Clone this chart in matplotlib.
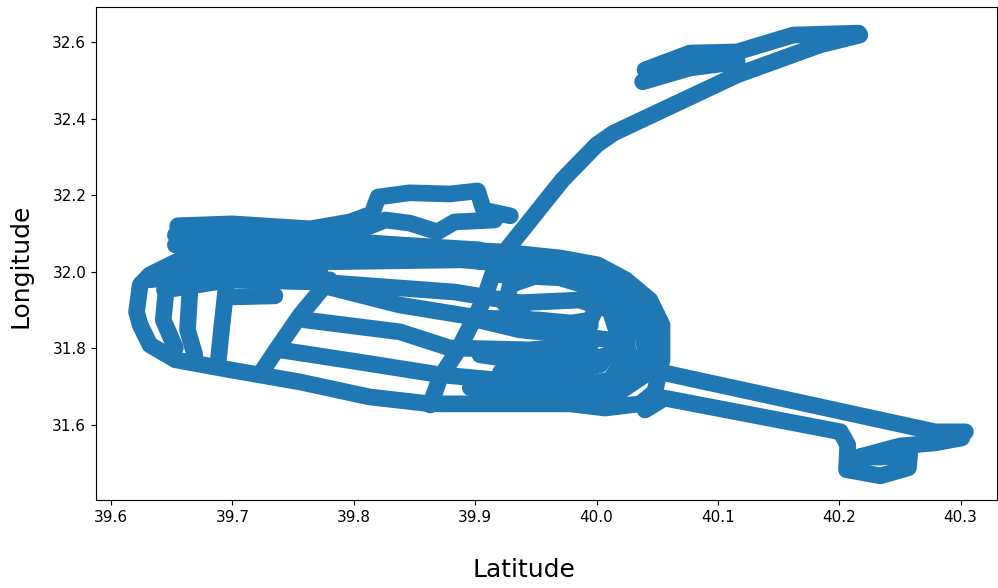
import numpy as np
import matplotlib.pyplot as plt

# GPS traces of the recorded trips: latitude on x, longitude on y
ring_lat = [39.756, 39.698, 39.657, 39.632, 39.624, 39.621, 39.624, 39.632, 39.653, 39.698,
            39.756, 39.813, 39.863, 39.921, 39.978, 40.007, 40.036, 40.048, 40.054, 40.054,
            40.044, 40.024, 40.001, 39.970, 39.921, 39.855, 39.780, 39.715, 39.661]
ring_lon = [32.052, 32.052, 32.031, 31.992, 31.966, 31.895, 31.861, 31.809, 31.770, 31.744,
            31.712, 31.673, 31.655, 31.655, 31.655, 31.644, 31.655, 31.686, 31.770, 31.861,
            31.926, 31.979, 32.018, 32.036, 32.052, 32.062, 32.073, 32.083, 32.093]

north_lat = [39.655, 39.655, 39.700, 39.764, 39.797, 39.815, 39.820, 39.846, 39.879, 39.902, 39.907, 39.929]
north_lon = [32.070, 32.120, 32.125, 32.112, 32.130, 32.151, 32.195, 32.206, 32.203, 32.211, 32.161, 32.146]

vee_lat = [39.756, 39.797, 39.826, 39.846, 39.869, 39.883, 39.916]
vee_lon = [32.083, 32.099, 32.135, 32.127, 32.104, 32.130, 32.135]

# road out to the north-east
diag_lat = [39.863, 39.871, 39.886, 39.907, 39.918, 39.972, 40.000, 40.014, 40.116, 40.184, 40.217]
diag_lon = [31.652, 31.723, 31.796, 31.926, 32.026, 32.240, 32.331, 32.362, 32.514, 32.592, 32.618]

ne_up_lat = [40.040, 40.077, 40.116, 40.162, 40.216]
ne_up_lon = [32.527, 32.571, 32.574, 32.618, 32.623]
ne_low_lat = [40.038, 40.077, 40.116]
ne_low_lon = [32.496, 32.532, 32.548]

# road out to the south-east
se_up_lat = [40.044, 40.279, 40.304]
se_up_lon = [31.744, 31.582, 31.582]
se_low_lat = [40.040, 40.056, 40.201, 40.207, 40.206, 40.234, 40.257, 40.258, 40.234, 40.216,
              40.250, 40.279, 40.301]
se_low_lon = [31.639, 31.670, 31.582, 31.548, 31.483, 31.467, 31.488, 31.522, 31.516, 31.516,
              31.545, 31.553, 31.566]

# streets inside the town
f1_lat = [39.653, 39.756, 39.838, 39.904]
f1_lon = [32.096, 32.088, 32.070, 32.057]
f2_lat = [39.653, 39.715, 39.797, 39.888, 39.937]
f2_lon = [32.070, 32.062, 32.052, 32.041, 32.036]
f3_lat = [39.655, 39.698]
f3_lon = [32.104, 32.104]
l1_lat = [39.632, 39.673, 39.723, 39.772]
l1_lon = [31.979, 31.992, 32.000, 32.000]
l2_lat = [39.665, 39.663, 39.669]
l2_lon = [31.952, 31.848, 31.783]
m2_lat = [39.665, 39.723, 39.780, 39.888, 39.953, 40.003, 40.036, 40.040, 40.028, 40.003, 39.953, 39.896]
m2_lon = [32.010, 32.026, 32.026, 32.031, 32.015, 31.966, 31.879, 31.796, 31.717, 31.686, 31.686, 31.697]
m3_lat = [39.644, 39.698, 39.772, 39.883, 39.937, 39.986, 40.011, 40.019, 40.003, 39.970, 39.921]
m3_lon = [31.952, 31.979, 31.973, 31.947, 31.919, 31.926, 31.900, 31.822, 31.757, 31.731, 31.738]
m4_lat = [39.772, 39.838, 39.904, 39.953, 39.995]
m4_lon = [31.966, 31.913, 31.879, 31.874, 31.861]
m5_lat = [39.760, 39.838, 39.879, 39.945, 39.995]
m5_lon = [31.874, 31.843, 31.801, 31.796, 31.809]
m6_lat = [39.739, 39.805, 39.871, 39.937, 40.003]
m6_lon = [31.796, 31.764, 31.731, 31.712, 31.697]
m7_lat = [39.695, 39.691, 39.688]
m7_lon = [31.966, 31.848, 31.757]
m8_lat = [39.780, 39.756, 39.739, 39.724]
m8_lon = [31.979, 31.887, 31.809, 31.738]
m9_lat = [39.645, 39.643, 39.653]
m9_lon = [31.939, 31.874, 31.801]
m10_lat = [39.698, 39.735]
m10_lon = [31.934, 31.937]
m11_lat = [39.929, 39.953, 39.991, 40.003, 39.995, 39.970, 39.945, 39.925, 39.929]
m11_lon = [31.966, 31.992, 31.979, 31.926, 31.874, 31.861, 31.874, 31.913, 31.966]
r1_lat = [39.904, 39.970, 40.011, 40.044, 40.048, 40.040, 40.015, 39.970, 39.912]
r1_lon = [32.026, 32.026, 31.992, 31.913, 31.822, 31.731, 31.678, 31.670, 31.678]
r2_lat = [39.921, 39.970, 40.003, 40.024, 40.026, 40.011, 39.978, 39.937]
r2_lon = [31.992, 31.984, 31.952, 31.874, 31.783, 31.717, 31.697, 31.704]
r3_lat = [39.896, 39.937, 39.978, 40.011]
r3_lon = [31.879, 31.848, 31.835, 31.822]
r4_lat = [39.904, 39.945, 39.986, 40.015]
r4_lon = [31.783, 31.764, 31.770, 31.783]

tracks = [
    (ring_lat, ring_lon), (north_lat, north_lon), (vee_lat, vee_lon),
    (diag_lat, diag_lon), (ne_up_lat, ne_up_lon), (ne_low_lat, ne_low_lon),
    (se_up_lat, se_up_lon), (se_low_lat, se_low_lon),
    (f1_lat, f1_lon), (f2_lat, f2_lon), (f3_lat, f3_lon),
    (l1_lat, l1_lon), (l2_lat, l2_lon),
    (m2_lat, m2_lon), (m3_lat, m3_lon), (m4_lat, m4_lon), (m5_lat, m5_lon),
    (m6_lat, m6_lon), (m7_lat, m7_lon), (m8_lat, m8_lon), (m9_lat, m9_lon),
    (m10_lat, m10_lon), (m11_lat, m11_lon),
    (r1_lat, r1_lon), (r2_lat, r2_lon), (r3_lat, r3_lon), (r4_lat, r4_lon),
]

fig = plt.figure(figsize=(9.98, 5.88), dpi=100)
ax = fig.add_axes([0.0962, 0.1497, 0.9028, 0.8376])

for lat, lon in tracks:
    ax.plot(lat, lon, color='#1f77b4', linewidth=12,
            solid_capstyle='round', solid_joinstyle='round')

ax.set_xlim(39.5876, 40.330)
ax.set_ylim(31.404, 32.690)
ax.tick_params(labelsize=11)

ax.set_xlabel('Latitude', fontsize=18)
ax.set_ylabel('Longitude', fontsize=18)
ax.xaxis.set_label_coords(0.475, -0.118)
ax.yaxis.set_label_coords(-0.070, 0.475)

fig.savefig('out.png', dpi=100)
